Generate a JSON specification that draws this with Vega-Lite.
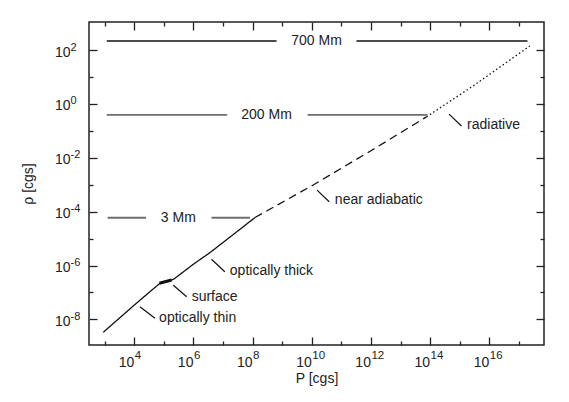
{
  "$schema": "https://vega.github.io/schema/vega-lite/v6.json",
  "width": 455,
  "height": 323,
  "autosize": {"type": "none"},
  "padding": {"left": 89, "top": 22, "right": 25, "bottom": 57},
  "background": "white",
  "config": {
    "font": "Liberation Sans",
    "view": {"stroke": "#222", "strokeWidth": 1.5},
    "axis": {"domain": false, "grid": false, "tickColor": "#222", "tickWidth": 1.3, "labelColor": "#222", "titleColor": "#222", "titleFontSize": 14, "titleFontWeight": "normal", "labelFont": "Liberation Sans", "titleFont": "Liberation Sans", "labelFlush": false, "labelOverlap": false, "labelBound": false}
  },
  "datasets": {
    "curve": [
      {"seg": "solid", "P": 891, "rho": 3.31e-9},
      {"seg": "solid", "P": 1e4, "rho": 3.39e-8},
      {"seg": "solid", "P": 3.16e4, "rho": 1e-7},
      {"seg": "solid", "P": 7.41e4, "rho": 2.19e-7},
      {"seg": "solid", "P": 1.26e5, "rho": 2.51e-7},
      {"seg": "solid", "P": 2.14e5, "rho": 3.09e-7},
      {"seg": "solid", "P": 1e6, "rho": 1.12e-6},
      {"seg": "solid", "P": 3.63e6, "rho": 3.02e-6},
      {"seg": "solid", "P": 3.8e7, "rho": 2.24e-5},
      {"seg": "solid", "P": 1.2e8, "rho": 6.03e-5},
      {"seg": "dashed", "P": 1.2e8, "rho": 6.03e-5},
      {"seg": "dashed", "P": 1.12e10, "rho": 9.77e-4},
      {"seg": "dashed", "P": 1e12, "rho": 1.82e-2},
      {"seg": "dashed", "P": 7.59e13, "rho": 0.331},
      {"seg": "dotted", "P": 7.59e13, "rho": 0.331},
      {"seg": "dotted", "P": 3.16e15, "rho": 5.01},
      {"seg": "dotted", "P": 2.34e17, "rho": 141}
    ],
    "blob": [
      {"P": 7.08e4, "rho": 2.19e-7},
      {"P": 1.82e5, "rho": 2.88e-7}
    ],
    "hlines": [
      {"label": "700 Mm", "P1": 1175, "P2": 6.46e8, "rho": 214},
      {"label": "700 Mm", "P1": 3.24e11, "P2": 1.95e17, "rho": 214},
      {"label": "200 Mm", "P1": 1175, "P2": 1.38e7, "rho": 0.389},
      {"label": "200 Mm", "P1": 7.24e9, "P2": 8.13e13, "rho": 0.389},
      {"label": "3 Mm", "P1": 1259, "P2": 2.51e4, "rho": 5.89e-5},
      {"label": "3 Mm", "P1": 4.07e6, "P2": 8.13e7, "rho": 5.89e-5}
    ],
    "hlabels": [
      {"label": "700 Mm", "P": 1.45e10, "rho": 214},
      {"label": "200 Mm", "P": 2.95e8, "rho": 0.389},
      {"label": "3 Mm", "P": 3.09e5, "rho": 5.89e-5}
    ],
    "leaders": [
      {"P1": 1.55e4, "rho1": 2.95e-8, "P2": 5.01e4, "rho2": 1.1e-8},
      {"P1": 2.09e5, "rho1": 1.86e-7, "P2": 5.89e5, "rho2": 6.92e-8},
      {"P1": 4.07e6, "rho1": 1.7e-6, "P2": 1.15e7, "rho2": 5.89e-7},
      {"P1": 1.51e10, "rho1": 6.31e-4, "P2": 3.89e10, "rho2": 2.34e-4},
      {"P1": 4.37e14, "rho1": 0.417, "P2": 1.15e15, "rho2": 0.151}
    ],
    "notes": [
      {"text": "optically thin", "P": 6.92e4, "rho": 1.1e-8},
      {"text": "surface", "P": 8.71e5, "rho": 6.92e-8},
      {"text": "optically thick", "P": 1.7e7, "rho": 6.31e-7},
      {"text": "near adiabatic", "P": 6.03e10, "rho": 2.63e-4},
      {"text": "radiative", "P": 1.78e15, "rho": 0.166}
    ]
  },
  "resolve": {"scale": {"x": "independent", "y": "independent"}, "axis": {"x": "independent", "y": "independent"}},
  "layer": [
    {
      "layer": [
        {
          "data": {"name": "curve"},
          "mark": {"type": "line", "color": "#111", "strokeWidth": 1.3},
          "encoding": {
            "x": {"field": "P", "type": "quantitative",
              "scale": {"type": "log", "domain": [295, 7.08e17], "nice": false},
              "axis": {"orient": "bottom", "title": "P [cgs]", "ticks": false,
                "values": [1e4, 1e6, 1e8, 1e10, 1e12, 1e14, 1e16],
                "labelExpr": "'10'",
                "labelFontSize": 14, "labelAlign": "right", "labelBaseline": "alphabetic", "labelPadding": 21.5, "labelOffset": -0.5,
                "titleX": 227.5, "titleY": 37, "titleBaseline": "alphabetic", "titleAlign": "center"}},
            "y": {"field": "rho", "type": "quantitative",
              "scale": {"type": "log", "domain": [1.12e-9, 1096], "nice": false},
              "axis": {"orient": "left", "title": "ρ [cgs]", "ticks": false,
                "values": [1e-8, 1e-6, 1e-4, 1e-2, 1, 100],
                "labelExpr": "'10'",
                "labelFontSize": 14, "labelAlign": "right", "labelBaseline": "middle", "labelPadding": 19, "labelOffset": 2,
                "titleX": -57, "titleY": 161.5, "titleBaseline": "alphabetic", "titleAlign": "center", "titleAngle": 270}},
            "strokeDash": {"field": "seg", "type": "nominal", "legend": null,
              "scale": {"domain": ["solid", "dashed", "dotted"], "range": [[1, 0], [8, 5], [1.5, 2.5]]}}
          }
        },
        {
          "data": {"name": "blob"},
          "mark": {"type": "line", "color": "#111", "strokeWidth": 3},
          "encoding": {
            "x": {"field": "P", "type": "quantitative"},
            "y": {"field": "rho", "type": "quantitative"}
          }
        },
        {
          "data": {"name": "hlines"},
          "mark": {"type": "rule"},
          "encoding": {
            "x": {"field": "P1", "type": "quantitative"},
            "x2": {"field": "P2"},
            "y": {"field": "rho", "type": "quantitative"},
            "color": {"field": "label", "type": "nominal", "legend": null,
              "scale": {"domain": ["700 Mm", "200 Mm", "3 Mm"], "range": ["#111111", "#6e6e6e", "#6e6e6e"]}},
            "strokeWidth": {"field": "label", "type": "nominal", "legend": null,
              "scale": {"domain": ["700 Mm", "200 Mm", "3 Mm"], "range": [1.5, 2, 2]}}
          }
        },
        {
          "data": {"name": "hlabels"},
          "mark": {"type": "text", "fontSize": 14, "color": "#222", "align": "center", "baseline": "middle"},
          "encoding": {
            "x": {"field": "P", "type": "quantitative"},
            "y": {"field": "rho", "type": "quantitative"},
            "text": {"field": "label"}
          }
        },
        {
          "data": {"name": "leaders"},
          "mark": {"type": "rule", "color": "#111", "strokeWidth": 1.2},
          "encoding": {
            "x": {"field": "P1", "type": "quantitative"},
            "y": {"field": "rho1", "type": "quantitative"},
            "x2": {"field": "P2"},
            "y2": {"field": "rho2"}
          }
        },
        {
          "data": {"name": "notes"},
          "mark": {"type": "text", "fontSize": 14, "color": "#222", "align": "left", "baseline": "middle"},
          "encoding": {
            "x": {"field": "P", "type": "quantitative"},
            "y": {"field": "rho", "type": "quantitative"},
            "text": {"field": "text"}
          }
        }
      ]
    },
    {
      "data": {"name": "curve"},
      "mark": {"type": "point", "opacity": 0},
      "encoding": {
        "x": {"field": "P", "type": "quantitative",
          "scale": {"type": "log", "domain": [295, 7.08e17], "nice": false},
          "axis": {"orient": "bottom", "title": null, "ticks": false,
            "values": [1e4, 1e6, 1e8, 1e10, 1e12, 1e14, 1e16],
            "labelExpr": "'' + round(log(datum.value)/LN10)",
            "labelFontSize": 11.5, "labelAlign": "left", "labelBaseline": "alphabetic", "labelPadding": 13, "labelOffset": 0}},
        "y": {"field": "rho", "type": "quantitative",
          "scale": {"type": "log", "domain": [1.12e-9, 1096], "nice": false},
          "axis": {"orient": "left", "title": null, "ticks": false,
            "values": [1e-8, 1e-6, 1e-4, 1e-2, 1, 100],
            "labelExpr": "'' + round(log(datum.value)/LN10)",
            "labelFontSize": 11, "labelAlign": "left", "labelBaseline": "middle", "labelPadding": 19, "labelOffset": -3}}
      }
    },
    {
      "data": {"name": "curve"},
      "mark": {"type": "point", "opacity": 0},
      "encoding": {
        "x": {"field": "P", "type": "quantitative",
          "scale": {"type": "log", "domain": [295, 7.08e17], "nice": false},
          "axis": {"orient": "top", "title": null, "labels": false,
            "values": [1e3, 1e4, 1e5, 1e6, 1e7, 1e8, 1e9, 1e10, 1e11, 1e12, 1e13, 1e14, 1e15, 1e16, 1e17],
            "tickSize": {"condition": {"test": "round(log(datum.value)/LN10)%2==0", "value": -8}, "value": -4}}},
        "y": {"field": "rho", "type": "quantitative",
          "scale": {"type": "log", "domain": [1.12e-9, 1096], "nice": false},
          "axis": {"orient": "right", "title": null, "labels": false,
            "values": [1e-8, 1e-7, 1e-6, 1e-5, 1e-4, 1e-3, 1e-2, 1e-1, 1, 10, 100],
            "tickSize": {"condition": {"test": "round(log(datum.value)/LN10)%2==0", "value": -8}, "value": -4}}}
      }
    },
    {
      "data": {"name": "curve"},
      "mark": {"type": "point", "opacity": 0},
      "encoding": {
        "x": {"field": "P", "type": "quantitative",
          "scale": {"type": "log", "domain": [295, 7.08e17], "nice": false},
          "axis": {"orient": "bottom", "title": null, "labels": false,
            "values": [1e3, 1e4, 1e5, 1e6, 1e7, 1e8, 1e9, 1e10, 1e11, 1e12, 1e13, 1e14, 1e15, 1e16, 1e17],
            "tickSize": {"condition": {"test": "round(log(datum.value)/LN10)%2==0", "value": -8}, "value": -4}}},
        "y": {"field": "rho", "type": "quantitative",
          "scale": {"type": "log", "domain": [1.12e-9, 1096], "nice": false},
          "axis": {"orient": "left", "title": null, "labels": false,
            "values": [1e-8, 1e-7, 1e-6, 1e-5, 1e-4, 1e-3, 1e-2, 1e-1, 1, 10, 100],
            "tickSize": {"condition": {"test": "round(log(datum.value)/LN10)%2==0", "value": -8}, "value": -4}}}
      }
    }
  ]
}
